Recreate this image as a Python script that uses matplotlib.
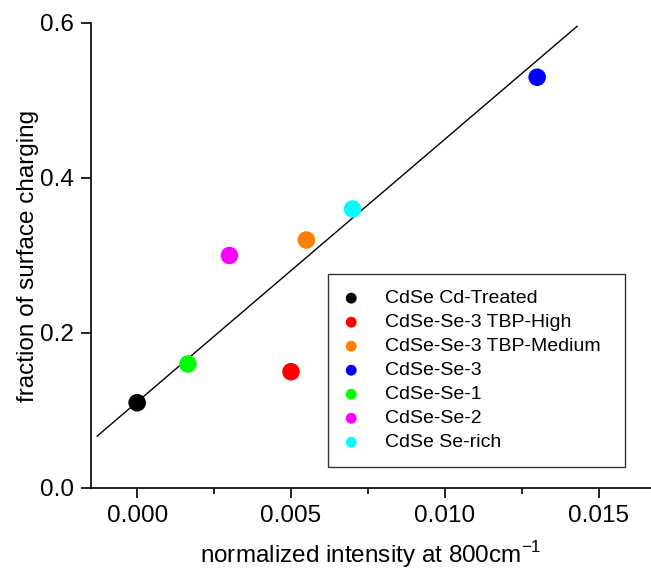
import matplotlib
matplotlib.use("Agg")
import matplotlib.pyplot as plt
from matplotlib.ticker import MultipleLocator, FormatStrFormatter
import numpy as np

plt.rcParams['font.family'] = ['Liberation Sans', 'DejaVu Sans']

samples = ["CdSe Cd-Treated", "CdSe-Se-3 TBP-High", "CdSe-Se-3 TBP-Medium",
           "CdSe-Se-3", "CdSe-Se-1", "CdSe-Se-2", "CdSe Se-rich"]
intensity = [0.0, 0.005, 0.0055, 0.013, 0.00165, 0.003, 0.007]
charging = [0.11, 0.15, 0.32, 0.53, 0.16, 0.30, 0.36]
colors = ["#000000", "#ff0000", "#ff7f00", "#0000ff", "#00ff00", "#ff00ff", "#00ffff"]

fit_x = [-0.0013, 0.0143]
fit_slope = 33.9
fit_intercept = 0.111

fig = plt.figure(figsize=(6.51, 5.69), dpi=100)
ax = fig.add_axes([0.1398, 0.1424, 0.8602, 0.8172])

fx = np.array(fit_x)
ax.plot(fx, fit_intercept + fit_slope * fx, color="black", lw=1.0, zorder=2)

for name, x, y, c in zip(samples, intensity, charging, colors):
    ax.scatter([x], [y], s=160, color=c, edgecolors="none", label=name, zorder=3)

ax.set_xlim(-0.0015, 0.0167)
ax.set_ylim(0, 0.6)
ax.xaxis.set_major_locator(MultipleLocator(0.005))
ax.xaxis.set_minor_locator(MultipleLocator(0.0025))
ax.yaxis.set_major_locator(MultipleLocator(0.2))
ax.xaxis.set_major_formatter(FormatStrFormatter("%.3f"))
ax.yaxis.set_major_formatter(FormatStrFormatter("%.1f"))

for s in ("top", "right"):
    ax.spines[s].set_visible(False)
for s in ("left", "bottom"):
    ax.spines[s].set_linewidth(1.2)

ax.tick_params(which="major", direction="out", length=7, width=1.2, labelsize=17.5, pad=5)
ax.tick_params(which="minor", direction="out", length=4, width=1.2)

ax.set_xlabel("normalized intensity at 800cm$^{\\mathregular{-1}}$", fontsize=17.5, labelpad=9)
ax.set_ylabel("fraction of surface charging", fontsize=17.5, labelpad=1)

leg = ax.legend(loc="upper left", bbox_to_anchor=(0.423, 0.460, 0.530, 0.0),
                mode="expand", frameon=True, fancybox=False, fontsize=14,
                markerscale=0.62, handletextpad=1.35, labelspacing=0.33,
                borderpad=0.8, handlelength=0.8, borderaxespad=0)
leg.get_frame().set_edgecolor("black")
leg.get_frame().set_linewidth(1.0)

fig.savefig("out.png", dpi=100)
